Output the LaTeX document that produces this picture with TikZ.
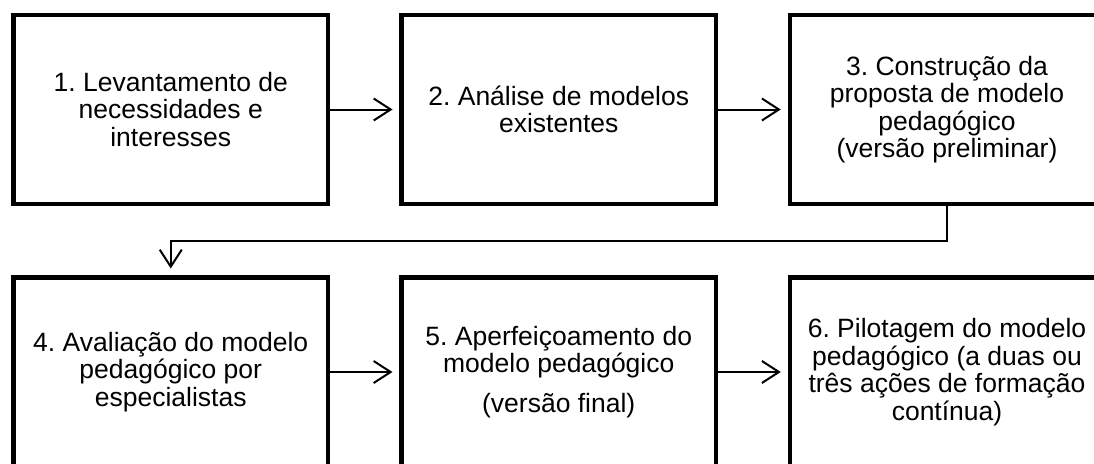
\documentclass[tikz,border=0pt]{standalone}
\usepackage{fontspec}
\setmainfont{Liberation Sans}
\usetikzlibrary{arrows.meta}
\frenchspacing
\begin{document}
\begin{tikzpicture}[x=1pt,y=-1pt,
  stepbox/.style={draw, line width=4.5pt, minimum width=314.5pt, minimum height=189pt,
    inner sep=0pt, outer sep=0pt, align=center, font=\fontsize{26.5}{27.5}\selectfont},
  arr/.style={line width=2pt, -{Straight Barb[length=17pt,width=22pt]}, shorten >=9pt}]
\useasboundingbox (0,0) rectangle (1094,463);
\node[stepbox] (b1) at (170.75,109.5) {1. Levantamento de\\necessidades e\\interesses};
\node[stepbox] (b2) at (558.75,109.5) {2. Análise de modelos\\existentes};
\node[stepbox] (b3) at (947,109.5) {3. Construção da\\proposta de modelo\\pedagógico\\(versão preliminar)};
\node[stepbox] (b4) at (170.75,372) {4. Avaliação do modelo\\pedagógico por\\especialistas};
\node[stepbox] (b5) at (558.75,372) {5. Aperfeiçoamento do\\modelo pedagógico\\[12pt](versão final)};
\node[stepbox] (b6) at (947,372) {6. Pilotagem do modelo\\pedagógico (a duas ou\\três ações de formação\\contínua)};
\coordinate (turn) at (947,241);
\draw[arr] (b1) -- (b2);
\draw[arr] (b2) -- (b3);
\draw[arr] (b3.south) -- (turn) -| (b4.north);
\draw[arr] (b4) -- (b5);
\draw[arr] (b5) -- (b6);
\end{tikzpicture}
\end{document}
